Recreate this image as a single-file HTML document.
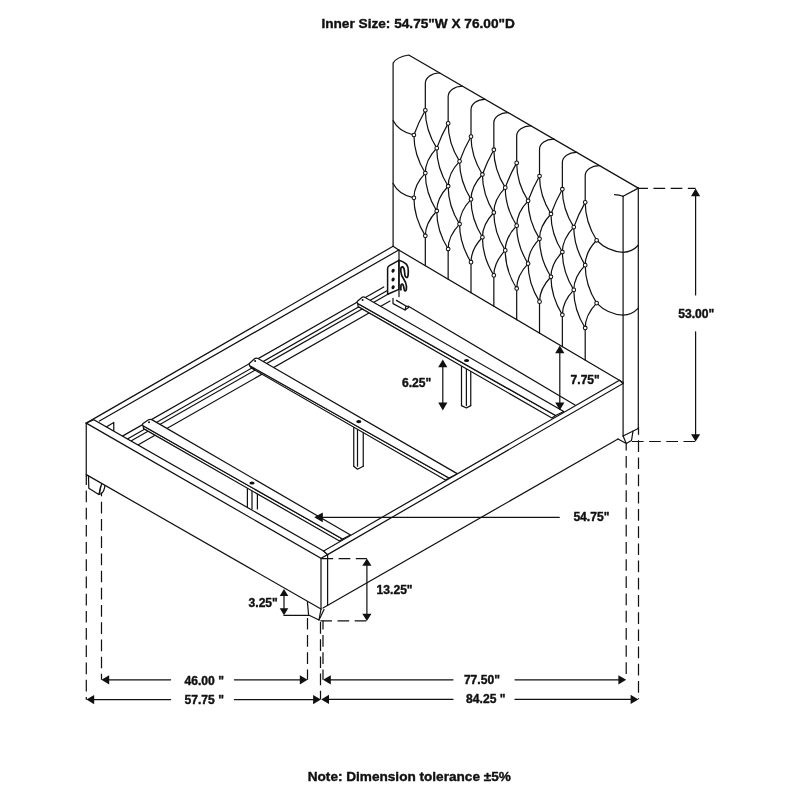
<!DOCTYPE html>
<html>
<head>
<meta charset="utf-8">
<title>Bed dimensions</title>
<style>
html,body{margin:0;padding:0;background:#fff;}
body{width:800px;height:800px;overflow:hidden;font-family:"Liberation Sans",sans-serif;}
svg{display:block;will-change:transform;}
svg line,svg path{stroke:#111;stroke-width:1.22;fill:none;stroke-linecap:round;stroke-linejoin:round;}
svg .btn circle{fill:#fff;stroke:#111;stroke-width:1.05;}
svg .w{fill:#fff;}
svg .mj{stroke-linejoin:miter;}
svg .dot circle,svg .dot ellipse{fill:#111;stroke:none;}
svg .ds{stroke-dasharray:11.7 5.5;stroke-linecap:butt;}
svg .ah{fill:#111;stroke:none;}
svg .hk{stroke-width:1.7;}
svg .pl{stroke-width:1.5;}
svg text{font-family:"Liberation Sans",sans-serif;font-weight:bold;fill:#111;stroke:#111;stroke-width:0.4px;stroke-linejoin:round;}
</style>
</head>
<body>
<svg width="800" height="800" viewBox="0 0 800 800">
<rect x="0" y="0" width="800" height="800" fill="#fff"/>
<g class="hb">
<path d="M393.1 246.25 L393.1 63.1 Q396.2 57.2 408.75 55 L638.3 188.1"/>
<line x1="638.3" y1="188.1" x2="638.3" y2="428.5"/>
<line x1="623.1" y1="196.3" x2="623.1" y2="436"/>
<line x1="638.3" y1="188.1" x2="623.1" y2="196.3"/>
<path d="M614.5 194.6 Q619 194.8 623.1 196.3"/>
<line x1="623.1" y1="436" x2="638.3" y2="428.5"/>
<path d="M439.82 73.02 C431.7 72.72 425.32 77.58 425.32 83.4 L425.32 110.25"/>
<line x1="425.32" y1="235.85" x2="425.32" y2="265.69"/>
<path d="M462.66 86.26 C454.54 85.96 448.16 90.79 448.16 96.56 L448.16 123.41"/>
<line x1="448.16" y1="249.01" x2="448.16" y2="279.18"/>
<path d="M485.5 99.5 C477.38 99.2 471 104 471 109.72 L471 136.57"/>
<line x1="471" y1="262.17" x2="471" y2="292.67"/>
<path d="M508.34 112.75 C500.22 112.45 493.84 117.2 493.84 122.88 L493.84 149.73"/>
<line x1="493.84" y1="275.33" x2="493.84" y2="306.16"/>
<path d="M531.18 125.99 C523.06 125.69 516.68 130.41 516.68 136.04 L516.68 162.89"/>
<line x1="516.68" y1="288.49" x2="516.68" y2="319.65"/>
<path d="M554.02 139.23 C545.9 138.93 539.52 143.62 539.52 149.2 L539.52 176.05"/>
<line x1="539.52" y1="301.65" x2="539.52" y2="333.14"/>
<path d="M576.86 152.48 C568.74 152.18 562.36 156.82 562.36 162.36 L562.36 189.21"/>
<line x1="562.36" y1="314.81" x2="562.36" y2="346.63"/>
<path d="M599.7 165.72 C591.58 165.42 585.2 170.03 585.2 175.52 L585.2 202.37"/>
<line x1="585.2" y1="327.97" x2="585.2" y2="360.12"/>
<path d="M413.9 135 Q413.9 154.79 425.32 173.05"/>
<path d="M413.9 197.8 Q413.9 217.59 425.32 235.85"/>
<path d="M425.32 110.25 Q418.51 122.12 413.9 135"/>
<path d="M425.32 110.25 Q425.32 129.96 436.74 148.16"/>
<path d="M425.32 173.05 Q413.9 184.93 413.9 197.8"/>
<path d="M425.32 173.05 Q425.32 192.76 436.74 210.96"/>
<path d="M436.74 148.16 Q425.32 160.11 425.32 173.05"/>
<path d="M436.74 148.16 Q436.74 167.95 448.16 186.21"/>
<path d="M436.74 210.96 Q425.32 222.91 425.32 235.85"/>
<path d="M436.74 210.96 Q436.74 230.75 448.16 249.01"/>
<path d="M448.16 123.41 Q441.35 135.28 436.74 148.16"/>
<path d="M448.16 123.41 Q448.16 143.12 459.58 161.32"/>
<path d="M448.16 186.21 Q436.74 198.09 436.74 210.96"/>
<path d="M448.16 186.21 Q448.16 205.92 459.58 224.12"/>
<path d="M459.58 161.32 Q448.16 173.27 448.16 186.21"/>
<path d="M459.58 161.32 Q459.58 181.11 471 199.37"/>
<path d="M459.58 224.12 Q448.16 236.07 448.16 249.01"/>
<path d="M459.58 224.12 Q459.58 243.91 471 262.17"/>
<path d="M471 136.57 Q464.19 148.44 459.58 161.32"/>
<path d="M471 136.57 Q471 156.28 482.42 174.48"/>
<path d="M471 199.37 Q459.58 211.25 459.58 224.12"/>
<path d="M471 199.37 Q471 219.08 482.42 237.28"/>
<path d="M482.42 174.48 Q471 186.43 471 199.37"/>
<path d="M482.42 174.48 Q482.42 194.27 493.84 212.53"/>
<path d="M482.42 237.28 Q471 249.23 471 262.17"/>
<path d="M482.42 237.28 Q482.42 257.07 493.84 275.33"/>
<path d="M493.84 149.73 Q487.03 161.61 482.42 174.48"/>
<path d="M493.84 149.73 Q493.84 169.44 505.26 187.64"/>
<path d="M493.84 212.53 Q482.42 224.41 482.42 237.28"/>
<path d="M493.84 212.53 Q493.84 232.24 505.26 250.44"/>
<path d="M505.26 187.64 Q493.84 199.59 493.84 212.53"/>
<path d="M505.26 187.64 Q505.26 207.43 516.68 225.69"/>
<path d="M505.26 250.44 Q493.84 262.39 493.84 275.33"/>
<path d="M505.26 250.44 Q505.26 270.23 516.68 288.49"/>
<path d="M516.68 162.89 Q509.87 174.76 505.26 187.64"/>
<path d="M516.68 162.89 Q516.68 182.6 528.1 200.8"/>
<path d="M516.68 225.69 Q505.26 237.57 505.26 250.44"/>
<path d="M516.68 225.69 Q516.68 245.4 528.1 263.6"/>
<path d="M528.1 200.8 Q516.68 212.75 516.68 225.69"/>
<path d="M528.1 200.8 Q528.1 220.59 539.52 238.85"/>
<path d="M528.1 263.6 Q516.68 275.55 516.68 288.49"/>
<path d="M528.1 263.6 Q528.1 283.39 539.52 301.65"/>
<path d="M539.52 176.05 Q532.71 187.93 528.1 200.8"/>
<path d="M539.52 176.05 Q539.52 195.76 550.94 213.96"/>
<path d="M539.52 238.85 Q528.1 250.73 528.1 263.6"/>
<path d="M539.52 238.85 Q539.52 258.56 550.94 276.76"/>
<path d="M550.94 213.96 Q539.52 225.91 539.52 238.85"/>
<path d="M550.94 213.96 Q550.94 233.75 562.36 252.01"/>
<path d="M550.94 276.76 Q539.52 288.71 539.52 301.65"/>
<path d="M550.94 276.76 Q550.94 296.55 562.36 314.81"/>
<path d="M562.36 189.21 Q555.55 201.09 550.94 213.96"/>
<path d="M562.36 189.21 Q562.36 208.92 573.78 227.12"/>
<path d="M562.36 252.01 Q550.94 263.89 550.94 276.76"/>
<path d="M562.36 252.01 Q562.36 271.72 573.78 289.92"/>
<path d="M573.78 227.12 Q562.36 239.07 562.36 252.01"/>
<path d="M573.78 227.12 Q573.78 246.91 585.2 265.17"/>
<path d="M573.78 289.92 Q562.36 301.87 562.36 314.81"/>
<path d="M573.78 289.92 Q573.78 309.71 585.2 327.97"/>
<path d="M585.2 202.37 Q578.39 214.25 573.78 227.12"/>
<path d="M585.2 202.37 Q585.2 222.08 596.62 240.28"/>
<path d="M585.2 265.17 Q573.78 277.05 573.78 289.92"/>
<path d="M585.2 265.17 Q585.2 284.88 596.62 303.08"/>
<path d="M596.62 240.28 Q585.2 252.23 585.2 265.17"/>
<path d="M596.62 303.08 Q585.2 315.03 585.2 327.97"/>
<path d="M393.1 120.6 Q398.6 131.8 413.9 135"/>
<path d="M393.1 183.4 Q398.6 194.6 413.9 197.8"/>
<path d="M596.62 240.28 Q607.62 251.48 623.1 252.28 Q632 252.08 638.3 245.28"/>
<path d="M596.62 303.08 Q607.62 314.28 623.1 315.08 Q632 314.88 638.3 308.08"/>
</g>
<g class="btn">
<circle cx="413.9" cy="135" r="1.85"/>
<circle cx="413.9" cy="197.8" r="1.85"/>
<circle cx="425.32" cy="110.25" r="1.85"/>
<circle cx="425.32" cy="173.05" r="1.85"/>
<circle cx="425.32" cy="235.85" r="1.85"/>
<circle cx="436.74" cy="148.16" r="1.85"/>
<circle cx="436.74" cy="210.96" r="1.85"/>
<circle cx="448.16" cy="123.41" r="1.85"/>
<circle cx="448.16" cy="186.21" r="1.85"/>
<circle cx="448.16" cy="249.01" r="1.85"/>
<circle cx="459.58" cy="161.32" r="1.85"/>
<circle cx="459.58" cy="224.12" r="1.85"/>
<circle cx="471" cy="136.57" r="1.85"/>
<circle cx="471" cy="199.37" r="1.85"/>
<circle cx="471" cy="262.17" r="1.85"/>
<circle cx="482.42" cy="174.48" r="1.85"/>
<circle cx="482.42" cy="237.28" r="1.85"/>
<circle cx="493.84" cy="149.73" r="1.85"/>
<circle cx="493.84" cy="212.53" r="1.85"/>
<circle cx="493.84" cy="275.33" r="1.85"/>
<circle cx="505.26" cy="187.64" r="1.85"/>
<circle cx="505.26" cy="250.44" r="1.85"/>
<circle cx="516.68" cy="162.89" r="1.85"/>
<circle cx="516.68" cy="225.69" r="1.85"/>
<circle cx="516.68" cy="288.49" r="1.85"/>
<circle cx="528.1" cy="200.8" r="1.85"/>
<circle cx="528.1" cy="263.6" r="1.85"/>
<circle cx="539.52" cy="176.05" r="1.85"/>
<circle cx="539.52" cy="238.85" r="1.85"/>
<circle cx="539.52" cy="301.65" r="1.85"/>
<circle cx="550.94" cy="213.96" r="1.85"/>
<circle cx="550.94" cy="276.76" r="1.85"/>
<circle cx="562.36" cy="189.21" r="1.85"/>
<circle cx="562.36" cy="252.01" r="1.85"/>
<circle cx="562.36" cy="314.81" r="1.85"/>
<circle cx="573.78" cy="227.12" r="1.85"/>
<circle cx="573.78" cy="289.92" r="1.85"/>
<circle cx="585.2" cy="202.37" r="1.85"/>
<circle cx="585.2" cy="265.17" r="1.85"/>
<circle cx="585.2" cy="327.97" r="1.85"/>
<circle cx="596.62" cy="240.28" r="1.85"/>
<circle cx="596.62" cy="303.08" r="1.85"/>
</g>
<g class="fr">
<line x1="398.75" y1="250" x2="623.1" y2="382.5"/>
<line x1="393.1" y1="246.25" x2="398.75" y2="250"/>
<line x1="86.25" y1="423.1" x2="393.1" y2="246.25"/>
<line x1="99.4" y1="421" x2="398.75" y2="250"/>
<line x1="86.25" y1="423.1" x2="86.25" y2="476"/>
<line x1="321" y1="558.3" x2="321" y2="608.8"/>
<line x1="327.6" y1="554.6" x2="327.6" y2="605.4"/>
<line x1="86.3" y1="474.6" x2="321" y2="609"/>
<line x1="323" y1="608" x2="618" y2="439"/>
<line x1="408" y1="306" x2="575" y2="405"/>
<line x1="122.43" y1="436.15" x2="383.75" y2="286.94"/>
<line x1="127.41" y1="439" x2="386.9" y2="290.84"/>
<line x1="130.91" y1="441.01" x2="388.75" y2="293.78"/>
<line x1="137.91" y1="445.01" x2="390" y2="301.07"/>
<path d="M106.25 426.9 L113.75 422.4 L113.75 430.8"/>
<path d="M387.6 294.2 L387.6 268.2 Q387.7 266.6 389.4 265.6 L398.9 260.3 L398.9 289.4 L387.6 294.2 Z" class="w pl"/>
<line x1="399" y1="250" x2="399" y2="296.6"/>
</g>
<g class="dot">
<ellipse cx="393.1" cy="270.8" rx="1.55" ry="2.05" transform="rotate(28 393.1 270.8)"/>
<ellipse cx="393.1" cy="279.5" rx="1.55" ry="2.05" transform="rotate(28 393.1 279.5)"/>
<ellipse cx="393.1" cy="287.3" rx="1.55" ry="2.05" transform="rotate(28 393.1 287.3)"/>
</g>
<g class="fr">
<path d="M398.9 260.3 Q403.5 261.5 406.6 264.4 Q408.6 267 408.3 271.5 L408.1 275 Q407.9 277.6 406.4 277.4 Q405 277 404.9 275 L404.5 271.5 Q404.2 267.4 402.5 266.9 Q401 266.8 400.8 269 L400.9 272 Q401.2 275.4 403.4 278.6 Q406.4 283 406.5 286.5 L406.3 289.6 Q406 291 405 290.8 Q404.2 290.4 404 288.4 Q403.6 284.6 402.2 284 Q401 284 400.9 286 L400.9 289.8" class="hk"/>
<path d="M393 298.4 L393 303.6 L405 310 L408.6 307.4 L406 306 L396.4 300.4"/>
<line x1="405" y1="310" x2="406" y2="306"/>
<line x1="461.5" y1="364" x2="461.5" y2="405.6"/>
<line x1="466.4" y1="364" x2="466.4" y2="405.6"/>
<line x1="470.75" y1="364" x2="470.75" y2="405.6"/>
<path d="M461.5 405.6 L466.4 408 L470.75 405.6"/>
<path d="M357.6 303.4 L555.6 415.5 L551.9 418 L358.2 306.6 Z" class="w"/>
<path d="M365.2 297.49 L563.75 411.5 L555.6 415.5 L358.2 303.74 Q356.3 302.2 357.7 301.02 L361.9 297.48 Q363.3 296.3 365.2 297.49 Z" class="w"/>
<line x1="353.75" y1="424" x2="353.75" y2="466.25"/>
<line x1="357.5" y1="424" x2="357.5" y2="466.25"/>
<line x1="363.25" y1="424" x2="363.25" y2="466.25"/>
<path d="M353.75 466.25 L357.5 469.25 L363.25 466.25"/>
<path d="M249.6 365.6 L449 478 L445.5 480 L251.2 368 Z" class="w"/>
<path d="M258 358.59 L457.6 473.9 L449 478 L250.2 365.95 Q248.3 364.4 249.86 363 L254.54 358.8 Q256.1 357.4 258 358.59 Z" class="w"/>
<line x1="247.4" y1="486" x2="247.4" y2="509"/>
<line x1="252" y1="486" x2="252" y2="509"/>
<line x1="257.4" y1="486" x2="257.4" y2="509"/>
<path d="M142.9 425.6 L342.5 539 L339.5 541 L143.6 428.6 Z" class="w"/>
<path d="M152.2 419.9 L350.5 535 L342.5 539 L143.5 425.95 Q141.6 424.4 143.34 423.26 L148.56 419.84 Q150.3 418.7 152.2 419.9 Z" class="w"/>
</g>
<g class="dot">
<ellipse cx="466.6" cy="360.5" rx="2.6" ry="1.55"/>
<ellipse cx="358.8" cy="421.6" rx="2.6" ry="1.55"/>
<ellipse cx="252" cy="483" rx="2.6" ry="1.55"/>
<circle cx="362.6" cy="300" r="1.0"/>
<circle cx="255.1" cy="361" r="1.0"/>
<circle cx="149" cy="422.2" r="1.0"/>
</g>
<g class="fr">
<path d="M86.25 423.1 L321 558.3 L327.6 554.6 L323.6 551 L93.75 419.75 Z" class="w mj"/>
<path d="M327.6 554.6 L623.1 383.5 L619.5 380.3 L323.6 551 Z" class="w mj"/>
<path d="M88.5 476.2 L88.8 488.2 L98.8 494.5 L101.6 483.8"/>
<path d="M98.8 494.5 Q103.4 493.6 104.6 487.6 L104.9 485.6"/>
<line x1="100.6" y1="486.4" x2="99.6" y2="493"/>
<path d="M307.4 601.8 L308.6 615 L319 620 L324 609.6"/>
<line x1="321" y1="609" x2="319" y2="620"/>
<path d="M618 439 L626.25 443.5 L631.5 440.5 L633 431.2"/>
<line x1="623.1" y1="436" x2="626.25" y2="443.5"/>
</g>
<g class="dm">
<line x1="86.3" y1="476" x2="86.3" y2="699.7" class="ds" stroke-dashoffset="2.7" stroke-dasharray="11.27 5.43"/>
<line x1="101.5" y1="492.5" x2="101.5" y2="679.8" class="ds" stroke-dashoffset="7.85" stroke-dasharray="11.21 5.4"/>
<line x1="307.5" y1="617.9" x2="307.5" y2="679.8" class="ds" stroke-dasharray="11.61 5.59"/>
<line x1="320.5" y1="622" x2="320.5" y2="699.3" class="ds" stroke-dasharray="11.68 5.62"/>
<line x1="323" y1="620.8" x2="323" y2="679.8" class="ds" stroke-dashoffset="2.9" stroke-dasharray="11.68 5.62"/>
<line x1="626.2" y1="444" x2="626.2" y2="679.4" class="ds" stroke-dashoffset="5.25" stroke-dasharray="11.64 5.61"/>
<line x1="638.5" y1="427" x2="638.5" y2="699.2" class="ds" stroke-dashoffset="4" stroke-dasharray="11.64 5.61"/>
<polygon class="ah" points="101.4,679.8 109.2,675.2 109.2,684.4"/>
<polygon class="ah" points="307.6,679.8 299.8,675.2 299.8,684.4"/>
<line x1="108.4" y1="679.8" x2="170.6" y2="679.8"/>
<line x1="234.4" y1="679.8" x2="300.6" y2="679.8"/>
<text x="204.2" y="684.7" text-anchor="middle" font-size="12.1">46.00 "</text>
<polygon class="ah" points="86.4,699.6 94.2,695 94.2,704.2"/>
<polygon class="ah" points="320.9,699.6 313.1,695 313.1,704.2"/>
<line x1="93.4" y1="699.6" x2="170.6" y2="699.6"/>
<line x1="234.4" y1="699.6" x2="313.9" y2="699.6"/>
<text x="204.2" y="703.5" text-anchor="middle" font-size="12.1">57.75 "</text>
<polygon class="ah" points="323,679.8 330.8,675.2 330.8,684.4"/>
<polygon class="ah" points="626.2,679.8 618.4,675.2 618.4,684.4"/>
<line x1="330" y1="679.8" x2="453" y2="679.8"/>
<line x1="515" y1="679.8" x2="619.2" y2="679.8"/>
<text x="481.9" y="684" text-anchor="middle" font-size="12.1">77.50"</text>
<polygon class="ah" points="321.2,699.4 329,694.8 329,704"/>
<polygon class="ah" points="638.4,699.4 630.6,694.8 630.6,704"/>
<line x1="328.2" y1="699.4" x2="453" y2="699.4"/>
<line x1="515" y1="699.4" x2="631.4" y2="699.4"/>
<text x="485.8" y="703" text-anchor="middle" font-size="12.1">84.25 "</text>
<line x1="638.3" y1="188.4" x2="695.6" y2="188.4" class="ds" stroke-dashoffset="2.05"/>
<line x1="631.9" y1="441.5" x2="695.6" y2="441.5" class="ds"/>
<polygon class="ah" points="695.6,188.4 691,196.3 700.2,196.3"/>
<polygon class="ah" points="695.6,441.5 691,434.2 700.2,434.2"/>
<line x1="695.6" y1="195" x2="695.6" y2="295"/>
<line x1="695.6" y1="331.75" x2="695.6" y2="435"/>
<text x="696.2" y="318.4" text-anchor="middle" font-size="12.1">53.00"</text>
<polygon class="ah" points="559.8,345.4 555.2,353.2 564.4,353.2"/>
<polygon class="ah" points="559.8,410.2 555.2,402.4 564.4,402.4"/>
<line x1="559.8" y1="352" x2="559.8" y2="403"/>
<text x="585.2" y="384.3" text-anchor="middle" font-size="12.1">7.75"</text>
<polygon class="ah" points="442.8,359.5 438.2,367.3 447.4,367.3"/>
<polygon class="ah" points="442.8,410.4 438.2,402.6 447.4,402.6"/>
<line x1="442.8" y1="366" x2="442.8" y2="404"/>
<text x="416.6" y="387.4" text-anchor="middle" font-size="12.1">6.25"</text>
<polygon class="ah" points="314.2,517.3 322.8,512.4 322.8,522.2"/>
<line x1="322" y1="517.4" x2="559.2" y2="517.4"/>
<text x="591.4" y="521.2" text-anchor="middle" font-size="12.1">54.75"</text>
<line x1="321.4" y1="558.6" x2="366.9" y2="558.6" class="ds"/>
<line x1="320.3" y1="620.8" x2="366.9" y2="620.8" class="ds"/>
<polygon class="ah" points="366.9,558.6 362.3,565.8 371.5,565.8"/>
<polygon class="ah" points="366.9,620.9 362.3,613.7 371.5,613.7"/>
<line x1="366.9" y1="565" x2="366.9" y2="614.5"/>
<text x="394.6" y="594.2" text-anchor="middle" font-size="12.1">13.25"</text>
<polygon class="ah" points="284,589 279.7,596 288.3,596"/>
<polygon class="ah" points="284,615.2 279.7,608.2 288.3,608.2"/>
<line x1="284" y1="595" x2="284" y2="609"/>
<line x1="284" y1="615.4" x2="308.4" y2="615.4"/>
<text x="263.2" y="607.3" text-anchor="middle" font-size="12.1">3.25"</text>
</g>
<text x="418.1" y="28.3" text-anchor="middle" font-size="13.65">Inner Size: 54.75"W X 76.00"D</text>
<text x="409.3" y="780.7" text-anchor="middle" font-size="13.6">Note: Dimension tolerance ±5%</text>
</svg>
</body>
</html>
